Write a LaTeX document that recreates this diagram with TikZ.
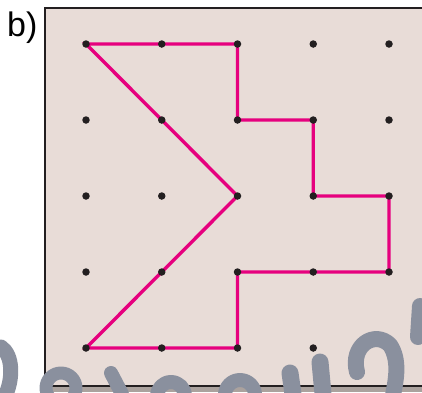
\documentclass[tikz,border=0pt]{standalone}
\usepackage{fontspec}
\setmainfont{Liberation Sans}
\definecolor{boxc}{HTML}{E8DCD7}
\definecolor{framec}{HTML}{231F20}
\definecolor{mag}{HTML}{E6007E}
\definecolor{dotc}{HTML}{231F20}
\definecolor{wmc}{HTML}{8A909E}
\definecolor{stripc}{HTML}{ABA29E}
\pgfdeclarelayer{bg}
\pgfdeclarelayer{lines}
\pgfsetlayers{bg,lines,main}
\begin{document}
\begin{tikzpicture}[x=1pt,y=-1pt,
  dot/.style={circle,fill=dotc,inner sep=0pt,minimum size=7.5pt},
  poly/.style={draw=mag,line width=3.4pt,line join=miter},
  wm/.style={draw=wmc,line width=15pt,line cap=round,line join=round}]
\useasboundingbox (0,0) rectangle (422,392);
\begin{pgfonlayer}{bg}
\fill[stripc] (45,386) rectangle (422,392);
\fill[boxc] (45,8) rectangle (423,386);
\draw[line width=1.5pt, framec] (423,8) -- (45,8) -- (45,386) -- (423,386);
\end{pgfonlayer}
\node[anchor=base west, font=\fontsize{34}{40}\selectfont, inner sep=0pt] (lab) at (7,36) {b)};
\foreach \i in {0,...,4} \foreach \j in {0,...,4}
  \node[dot] (d\i\j) at ({86+75.75*\i},{44+76*\j}) {};
\begin{pgfonlayer}{lines}
\draw[poly] (d00.center) -- (d10.center) -- (d20.center) -- (d21.center) -- (d31.center)
  -- (d32.center) -- (d42.center) -- (d43.center) -- (d33.center) -- (d23.center)
  -- (d24.center) -- (d14.center) -- (d04.center) -- (d13.center) -- (d22.center)
  -- (d11.center) -- cycle;
\end{pgfonlayer}
% watermark strokes
\draw[wm] (1,347) .. controls (13,355) and (13,378) .. (6,394);
\draw[wm, line width=13pt] (61,388) circle (15);
\draw[wm, line width=14pt] (111,373) -- (122,394);
\draw[wm, line width=14pt] (157,396) arc (180:360:14);
\draw[wm, line width=14pt] (225,395) arc (180:360:15);
\draw[wm, line width=17pt] (290,373) -- (293,394);
\draw[wm, line width=17pt] (320,362) -- (323,394);
\draw[wm, line width=16pt] (357,372) .. controls (350,345) and (375,330) .. (390,345) .. controls (400,360) and (396,380) .. (393,395);
\draw[wm, line width=16pt] (420,306) -- (418,337);
\end{tikzpicture}
\end{document}
